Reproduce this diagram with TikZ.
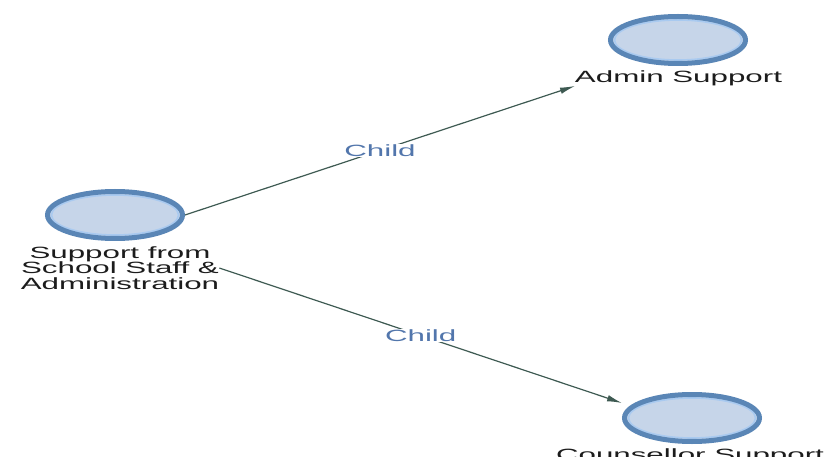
\documentclass[tikz,border=0pt]{standalone}
\usepackage{fontspec}
\usepackage{graphicx}
\setmainfont{Liberation Sans}
\usetikzlibrary{shapes.geometric,arrows.meta}

\definecolor{ringdark}{HTML}{5A86B6}
\definecolor{ringlight}{HTML}{A9CAF0}
\definecolor{bubblefill}{HTML}{C6D5E9}
\definecolor{linkcol}{HTML}{3E5A52}
\definecolor{childcol}{HTML}{5276AC}
\definecolor{textcol}{HTML}{1C1C1C}

% horizontally widened text
\newcommand\widetxt[1]{\scalebox{1.92}[1]{#1}}

\tikzset{
  bubble/.style={ellipse, draw=ringdark, line width=5pt, fill=bubblefill,
    minimum width=135pt, minimum height=47pt, inner sep=0pt,
    path picture={\draw[ringlight, line width=1.6pt]
      (path picture bounding box.center) ellipse (63.5pt and 20pt);}},
  caption/.style={text=textcol, inner sep=0pt, align=center,
    font=\fontsize{16.3}{15.5}\selectfont},
  link/.style={draw=linkcol, line width=1.2pt,
    -{Latex[length=15pt,width=6.5pt]}},
  childlbl/.style={text=childcol, fill=white, inner sep=1pt,
    font=\fontsize{16.3}{18}\selectfont}
}

\begin{document}
\begin{tikzpicture}[x=1pt,y=-1pt]
  \useasboundingbox (0,0) rectangle (830,457);
  \clip (0,0) rectangle (830,457);

  % nodes
  \node[bubble] (n1) at (115,215) {};
  \node[caption] (l1) at (120,268)
    {\widetxt{Support from}\\\widetxt{School Staff \&}\\\widetxt{Administration}};

  \node[bubble] (n2) at (678,40) {};
  \node[caption, anchor=base] (l2) at (678.5,83) {\widetxt{Admin Support}};

  \node[bubble] (n3) at (692,418) {};
  \node[caption, anchor=base] (l3) at (690,460) {\widetxt{Counsellor Support}};

  % arrow end points
  \coordinate (t1) at (575,86);
  \coordinate (t2) at (622,403);

  % connectors
  \draw[link] (n1.east) -- (t1)
    node[midway, childlbl] {\widetxt{Child}};
  \draw[link] (l1.east) -- (t2)
    node[midway, childlbl] {\widetxt{Child}};
\end{tikzpicture}
\end{document}
